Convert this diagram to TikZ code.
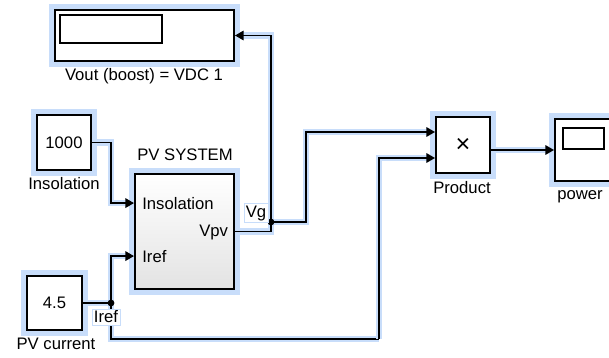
\documentclass[tikz,border=0pt]{standalone}
\usepackage{fontspec}
\setmainfont{Liberation Sans}
\usetikzlibrary{positioning, arrows.meta}
\definecolor{selblue}{RGB}{200,221,250}

\tikzset{
  blk/.style={draw, line width=1.4pt, fill=white, preaction={draw=selblue, line width=9pt}},
  win/.style={draw, line width=1.3pt, fill=white},
  wire/.style={line width=1.4pt, preaction={draw=selblue, line width=5pt}},
  sig/.style={wire, -{Triangle[length=6.5pt,width=7pt]}},
  jdot/.style={circle, fill, inner sep=1.8pt},
  tag/.style={draw=selblue, fill=white, inner sep=1.5pt},
}

\begin{document}
\begin{tikzpicture}[x=0.75pt, y=-0.75pt, every node/.style={font=\fontsize{12.5}{14}\selectfont, inner sep=0pt}]
\useasboundingbox (0,0) rectangle (609,357);

% ---- display block ----
\node[blk, minimum width=134.25pt, minimum height=38.25pt] (vout) at (144.5,35.5) {};
\node[win, minimum width=76.5pt, minimum height=21pt] (voutwin) at (111,29) {};
\node (voutlbl) at (144,76) {Vout (boost) = VDC 1};

% ---- sources ----
\node[blk, minimum width=40.5pt, minimum height=41.25pt] (ins) at (64,142.5) {1000};
\node (inslbl) at (64,184) {Insolation};
\node[blk, minimum width=41.25pt, minimum height=40.5pt] (cur) at (54.5,303) {4.5};
\node (curlbl) at (56,344) {PV current};

% ---- PV subsystem ----
\node (pvlbl) at (185,155) {PV SYSTEM};
\node[draw, line width=1.4pt, top color=white, bottom color=gray!22,
      preaction={draw=selblue, line width=9pt},
      minimum width=74.25pt, minimum height=86.25pt] (pv) at (184.5,231.5) {};
\coordinate (pvins) at ([yshift=-22.5pt]pv.north west);
\coordinate (pviref) at ([yshift=-62.25pt]pv.north west);
\node[anchor=west] (pvinslbl) at ([xshift=6pt]pvins) {Insolation};
\node[anchor=west] (pvireflbl) at ([xshift=6pt]pviref) {Iref};
\node[anchor=east] (pvoutlbl) at ([xshift=-5pt,yshift=-1pt]pv.east) {Vpv};

% ---- product and scope ----
\node[blk, minimum width=40.5pt, minimum height=42pt, font=\fontsize{19}{20}\selectfont] (prod) at (463,145) {×};
\node (prodlbl) at (462,188) {Product};
\coordinate (prodin1) at ([yshift=9.75pt]prod.west);
\coordinate (prodin2) at ([yshift=-9.75pt]prod.west);
\node[blk, minimum width=42pt, minimum height=46.5pt] (power) at (583,150) {};
\node[win, minimum width=30.75pt, minimum height=15.75pt] (powerwin) at (583.5,138.5) {};
\node (powerlbl) at (580,197) {power};

% ---- wires ----
\coordinate (jvg) at (271,222);
\coordinate (jiref) at (111,303);
\coordinate (bend) at (379,339);
\draw[sig] (ins.east) -- ++(19,0) |- (pvins);
\draw[wire] (pv.east) -| (jvg);
\draw[sig] (jvg) |- (vout.east);
\draw[sig] (jvg) -- ++(35,0) |- (prodin1);
\draw[wire] (cur.east) -- (jiref);
\draw[sig] (jiref) |- (pviref);
\draw[wire] (jiref) |- (bend);
\draw[sig] (bend) |- (prodin2);
\draw[sig] (power.west -| prod.east) -- (power.west);
\node[jdot] (jvgdot) at (jvg) {};
\node[jdot] (jirefdot) at (jiref) {};

% ---- signal labels ----
\node[tag] (vgtag) at (256,213) {Vg};
\node[tag] (ireftag) at (106,317) {Iref};
\end{tikzpicture}
\end{document}
